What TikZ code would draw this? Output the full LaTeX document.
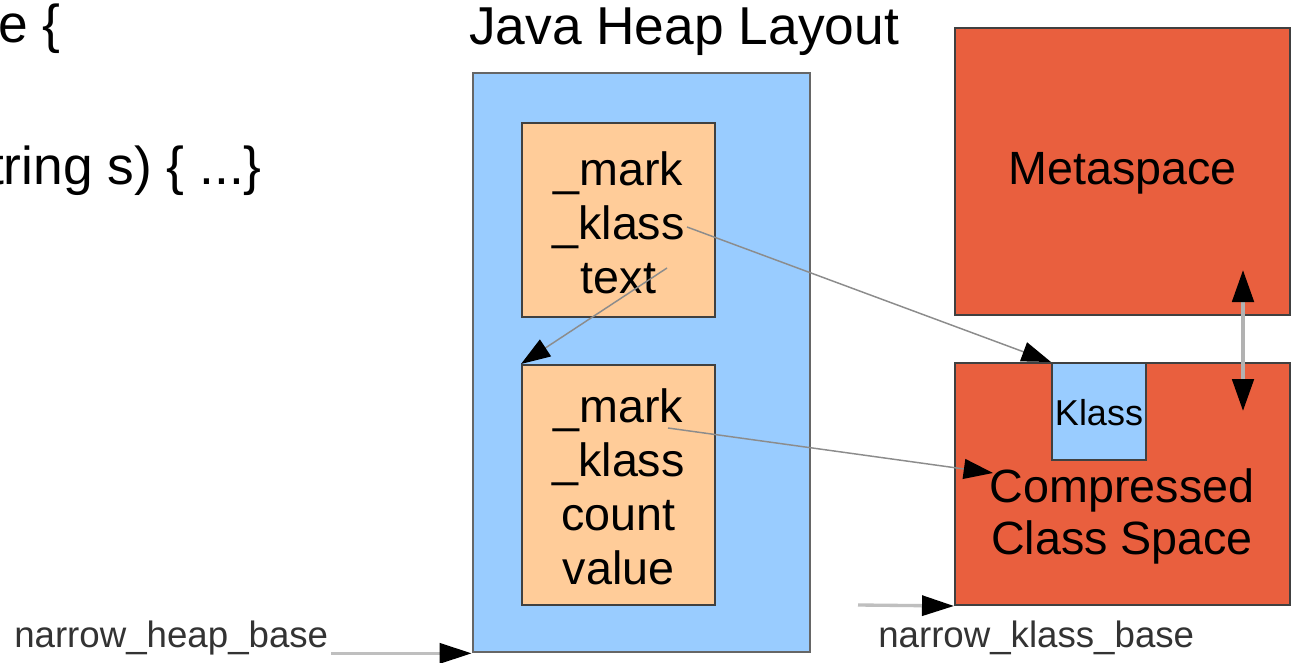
\documentclass[tikz,border=0pt]{standalone}
\usepackage{fontspec}
\setmainfont{Liberation Sans}
\usetikzlibrary{arrows.meta,fit}

\definecolor{heapblue}{HTML}{99CCFF}
\definecolor{objorange}{HTML}{FFCC99}
\definecolor{metared}{HTML}{E95F3E}

\tikzset{
  codetext/.style={inner sep=0pt, font=\fontsize{40}{48}\selectfont},
  region/.style={draw=black!75, line width=1.5pt, inner sep=0pt},
  heapbox/.style={region, fill=heapblue, draw=black!60, line width=2pt},
  objbox/.style={region, fill=objorange},
  spacebox/.style={region, fill=metared},
  klassbox/.style={region, fill=heapblue},
  bigtext/.style={inner sep=0pt, align=center, font=\fontsize{35}{40.5}\selectfont},
  smalltext/.style={inner sep=0pt, font=\fontsize{27}{32}\selectfont},
  baselabel/.style={inner sep=0pt, text=black!80, font=\fontsize{27.5}{32}\selectfont},
  ptr/.style={draw=black!45, line width=1.1pt,
    -{Triangle[length=22pt,width=15pt,color=black]}},
  baseptr/.style={draw=black!25, line width=2.5pt,
    -{Triangle[length=24pt,width=15pt,color=black]}},
  mapptr/.style={draw=black!30, line width=3pt,
    {Triangle[length=24pt,width=16pt,color=black]}-{Triangle[length=24pt,width=16pt,color=black]}},
}

\begin{document}
\begin{tikzpicture}[x=0.75pt,y=-0.75pt]
\useasboundingbox (0,0) rectangle (1293,663);
\clip (0,0) rectangle (1293,663);
\fill[white] (0,0) rectangle (1293,663);

% source fragments and heading
\node[codetext, anchor=base east] (decl) at (61,43) {e \{};
\node[codetext, anchor=base east] (ctor) at (262,185) {tring s) \{ ...\}};
\node[codetext, anchor=base] (title) at (684,45) {Java Heap Layout};

% heap with two objects
\node[heapbox, fit={(473,73) (810,652)}] (heap) {};
\node[objbox, fit={(522,123) (715,317)}] (str) {};
\node[bigtext] (strfields) at ([yshift=-2pt]str.center) {\_mark\\\_klass\\text};
\node[objbox, fit={(522,365) (715,605)}] (arr) {};
\node[bigtext] (arrfields) at ([yshift=-1pt]arr.center) {\_mark\\\_klass\\count\\value};

% metaspace and class space
\node[spacebox, fit={(955,28) (1290,315)}] (meta) {};
\node[bigtext] (metalabel) at ([yshift=-1pt]meta.center) {Metaspace};
\node[spacebox, fit={(955,363) (1290,605)}] (ccs) {};
\node[bigtext, font=\fontsize{35}{39}\selectfont] (ccslabel) at (1122,516) {Compressed\\Class Space};
\node[klassbox, fit={(1052,363) (1146,460)}] (klass) {};
\node[smalltext] (klasslabel) at ([yshift=-1pt]klass.center) {Klass};

% base labels
\node[baselabel, anchor=base west] (nhb) at (14,647) {narrow\_heap\_base};
\node[baselabel, anchor=base west] (nkb) at (878,647) {narrow\_klass\_base};

% pointer origins and targets
\coordinate (strklass) at (687,227);
\coordinate (strtext) at (667,268);
\coordinate (arrklass) at (668,428);
\coordinate (ccsentry) at (993,473);
\coordinate (metaend) at (1243,270);
\coordinate (ccsend) at (1243,411);
\coordinate (kbstart) at (858,605);

\draw[ptr] (strklass) -- (klass.north west);
\draw[ptr] (strtext) -- (arr.north west);
\draw[ptr] (arrklass) -- (ccsentry);
\draw[mapptr] (ccsend) -- (metaend);
\draw[baseptr] ([xshift=2pt]nhb.east |- heap.south west) -- (heap.south west);
\draw[baseptr] (kbstart) -- (ccs.south west);
\end{tikzpicture}
\end{document}
